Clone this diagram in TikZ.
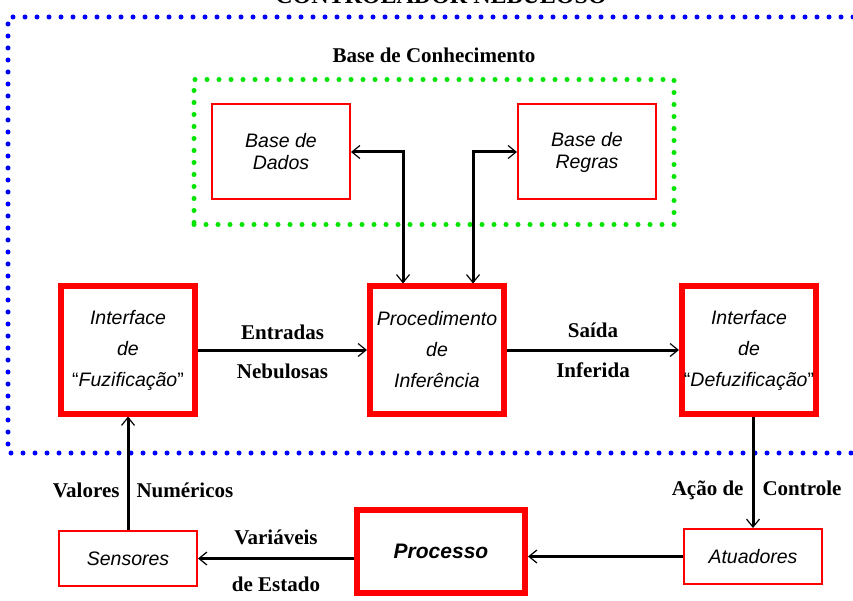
\documentclass[tikz,border=0pt]{standalone}
\usepackage{fontspec}
\setmainfont{Liberation Serif}
\setsansfont{Liberation Sans}
\usetikzlibrary{arrows.meta,positioning,fit}
\definecolor{fuzzyred}{RGB}{255,0,0}
\definecolor{kbgreen}{RGB}{0,228,0}
\definecolor{ctrlblue}{RGB}{0,0,255}

\begin{document}
\begin{tikzpicture}[
    x=1pt, y=1pt,
    >={Straight Barb[length=8pt,width=13pt,line width=1.2pt]},
    bigbox/.style={rectangle, draw=fuzzyred, line width=6pt, fill=white, inner sep=1pt, minimum width=134pt, minimum height=127pt, align=center, font=\sffamily\itshape\fontsize{19.5}{31}\selectfont},
    smallbox/.style={rectangle, draw=fuzzyred, line width=2pt, fill=white, minimum width=138pt, minimum height=95pt, align=center, font=\sffamily\itshape\fontsize{19.5}{22}\selectfont},
    iobox/.style={smallbox, minimum height=55pt},
    lbl/.style={font=\bfseries\fontsize{21}{24}\selectfont, inner sep=2pt, text height=14pt, text depth=0pt},
    arrow/.style={line width=3pt, ->},
    dotline/.style={line width=5pt, line cap=round, dash pattern=on 0pt off 12pt}
]
\useasboundingbox (0,0) rectangle (853,-601);

% controlador: moldura pontilhada
\draw [ctrlblue, dotline] (853,-17) -- (8,-17) -- (8,-453) -- (853,-453);
\node (title) [lbl, font=\bfseries\fontsize{24}{26}\selectfont] at (441,3) {CONTROLADOR NEBULOSO};

% nucleo do controlador
\node (proc) [bigbox] at (437,-350) {Procedimento\\de\\Inferência};
\node (fuz) [bigbox, left=169pt of proc] {Interface\\de\\{\upshape“}Fuzificação{\upshape”}};
\node (defuz) [bigbox, right=172pt of proc] {Interface\\de\\{\upshape“}Defuzificação{\upshape”}};

% base de conhecimento
\node (dados) [smallbox, above left=83pt and 16pt of proc] {Base de\\Dados};
\node (regras) [smallbox, above right=83pt and 10pt of proc] {Base de\\Regras};
\node (kb) [draw=kbgreen, dotline, fit=(dados)(regras), inner xsep=17pt, inner ysep=24pt] {};
\node (kbtitle) [lbl, above=12.5pt of kb] {Base de Conhecimento};

% planta
\node (sens) [iobox, below=113.5pt of fuz] {Sensores};
\node (processo) [bigbox, below=90.5pt of proc, xshift=4pt, minimum width=168pt, minimum height=83pt, font=\sffamily\bfseries\itshape\fontsize{21}{25}\selectfont] {Processo};
\node (atua) [iobox, below=111.5pt of defuz, xshift=4pt] {Atuadores};

% conexoes
\draw [arrow, <->] (dados.east) -| ([xshift=-34pt]proc.north);
\draw [arrow, <->] ([xshift=36pt]proc.north) |- (regras.west);
\draw [arrow] (fuz) -- node[lbl, above=7pt] {Entradas} node[lbl, below=11pt] {Nebulosas} (proc);
\draw [arrow] (proc) -- node[lbl, above=9pt] {Saída} node[lbl, below=10pt] {Inferida} (defuz);
\draw [arrow] (defuz.south -| atua.north) -- node[lbl, pos=0.645, left=6pt] {Ação de} node[lbl, pos=0.645, right=6pt] {Controle} (atua.north);
\draw [arrow] (atua) -- (processo.east |- atua);
\draw [arrow] (processo.west |- sens) -- node[lbl, above=11pt] {Variáveis} node[lbl, below=15pt] {de Estado} (sens);
\draw [arrow] (sens) -- node[lbl, pos=0.35, left=5pt] {Valores} node[lbl, pos=0.35, right=5pt] {Numéricos} (fuz);

\end{tikzpicture}
\end{document}
